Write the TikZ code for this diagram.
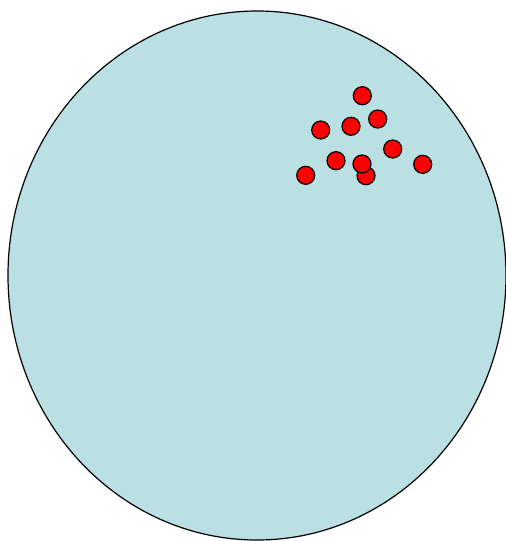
\documentclass[tikz,border=0pt]{standalone}
\definecolor{bg}{RGB}{187,224,227}
\begin{document}
\begin{tikzpicture}[x=1pt,y=-1pt,
  dot/.style={circle,draw=black,fill=red,line width=1.2pt,minimum size=18pt,inner sep=0pt}]
\useasboundingbox (0,0) rectangle (506,541);
\draw[fill=bg,line width=1.2pt] (257,275.5) ellipse [x radius=249, y radius=264.5];
\node[dot] (d8) at (366,175.7) {};
\node[dot] (d1) at (362.3,95.7) {};
\node[dot] (d2) at (377.7,119) {};
\node[dot] (d3) at (351,126.3) {};
\node[dot] (d4) at (320.7,130) {};
\node[dot] (d5) at (392.7,149) {};
\node[dot] (d6) at (422.7,164.3) {};
\node[dot] (d7) at (336,160.7) {};
\node[dot] (d9) at (362,164) {};
\node[dot] (d10) at (305.7,175.3) {};
\end{tikzpicture}
\end{document}
